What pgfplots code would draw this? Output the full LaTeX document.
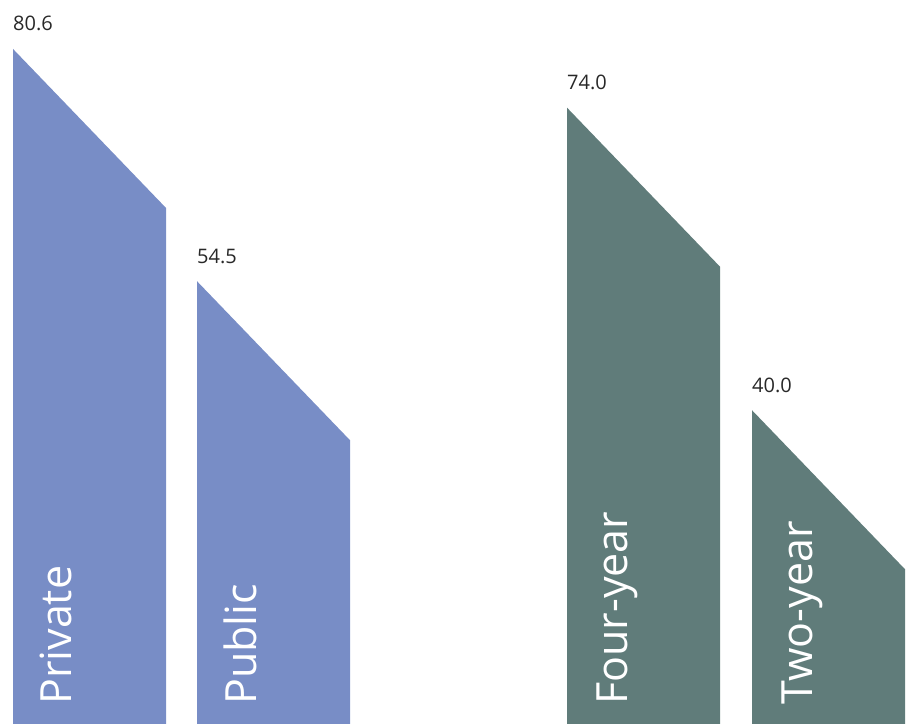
\documentclass[border=0pt]{standalone}
\usepackage{pgfplots}
\pgfplotsset{compat=1.18}
\usepackage{fontspec}
\setmainfont{Open Sans}
\definecolor{cblue}{RGB}{120,141,198}
\definecolor{cgreen}{RGB}{96,124,122}
\definecolor{ctext}{RGB}{40,40,40}
\begin{document}
\begin{tikzpicture}
\begin{axis}[
  width=909pt, height=723pt, scale only axis,
  xmin=0, xmax=909, ymin=4.854, ymax=86.10,
  hide axis, clip=true,
]
% Private 80.6
\addplot[fill=cblue, draw=none] coordinates {(13,0) (13,80.6) (166,62.73) (166,0)} -- cycle;
% Public 54.5
\addplot[fill=cblue, draw=none] coordinates {(197,0) (197,54.5) (350,36.63) (350,0)} -- cycle;
% Four-year 74.0
\addplot[fill=cgreen, draw=none] coordinates {(567,0) (567,74.0) (720,56.13) (720,0)} -- cycle;
% Two-year 40.0
\addplot[fill=cgreen, draw=none] coordinates {(752,0) (752,40.0) (905,22.13) (905,0)} -- cycle;

\begin{scope}[every node/.style={inner sep=0pt, font=\fontsize{20}{24}\selectfont, text=ctext}]
\node[anchor=base west, yshift=18pt] at (axis cs:13,80.6) {80.6};
\node[anchor=base west, yshift=18pt] at (axis cs:197,54.5) {54.5};
\node[anchor=base west, yshift=18pt] at (axis cs:567,74.0) {74.0};
\node[anchor=base west, yshift=18pt] at (axis cs:752,40.0) {40.0};
\end{scope}
\begin{scope}[every node/.style={inner sep=0pt, rotate=90, anchor=base west, yshift=0pt, font=\fontsize{43}{50}\selectfont, text=white}]
\node at ([yshift=18pt]axis cs:71,4.854) {Private};
\node at ([yshift=18pt]axis cs:256,4.854) {Public};
\node at ([yshift=18pt]axis cs:627,4.854) {Four-year};
\node at ([yshift=18pt]axis cs:812,4.854) {Two-year};
\end{scope}
\end{axis}
\pgfresetboundingbox
\path (current axis.south west) rectangle (current axis.north east);
\end{tikzpicture}
\end{document}
